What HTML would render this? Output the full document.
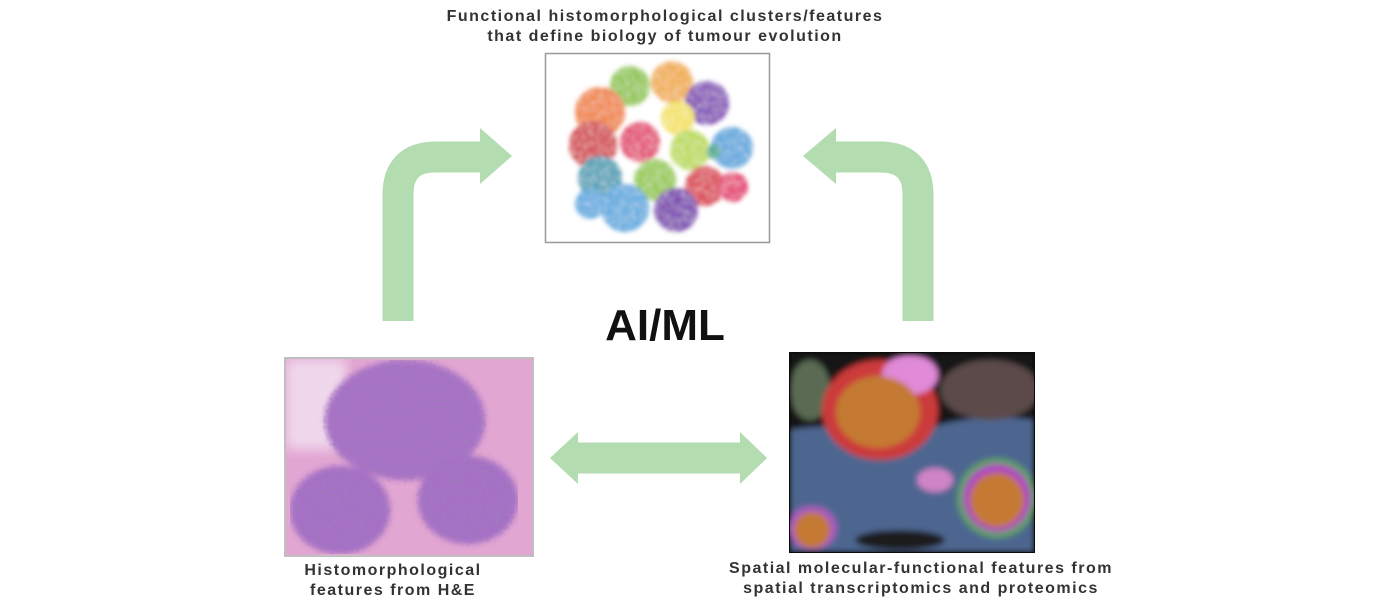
<!DOCTYPE html>
<html><head><meta charset="utf-8"><style>
html,body{margin:0;padding:0;background:#fff;}
svg{display:block;}
text{font-family:"Liberation Sans",Arial,sans-serif;font-weight:bold;letter-spacing:1.5px;}
</style></head><body>
<svg width="1400" height="600" viewBox="0 0 1400 600" xmlns="http://www.w3.org/2000/svg">
<defs>
<filter id="b2"><feGaussianBlur stdDeviation="2"/></filter>
<filter id="b3"><feGaussianBlur stdDeviation="3"/></filter>
<filter id="b6"><feGaussianBlur stdDeviation="6"/></filter>
<filter id="tex" x="0" y="0" width="100%" height="100%">
<feTurbulence type="fractalNoise" baseFrequency="0.4" numOctaves="2" seed="3" result="n"/>
<feColorMatrix in="n" type="matrix" values="0 0 0 0 1  0 0 0 0 1  0 0 0 0 1  0 0 0 -3 1.5" result="m"/>
<feComposite in="m" in2="SourceGraphic" operator="in" result="w"/>
<feMerge><feMergeNode in="SourceGraphic"/><feMergeNode in="w"/></feMerge>
</filter>
<filter id="dots" x="0" y="0" width="100%" height="100%">
<feTurbulence type="fractalNoise" baseFrequency="0.3" numOctaves="2" seed="7" result="n"/>
<feColorMatrix in="n" type="matrix" values="0 0 0 0 0.35  0 0 0 0 0.2  0 0 0 0 0.5  0 0 0 -3 1.6" result="m"/>
<feComposite in="m" in2="SourceGraphic" operator="in" result="w"/>
<feMerge><feMergeNode in="SourceGraphic"/><feMergeNode in="w"/></feMerge>
</filter>
<clipPath id="c1"><rect x="286" y="359" width="246" height="196"/></clipPath>
<clipPath id="c2"><rect x="790" y="353" width="244" height="199"/></clipPath>
</defs>

<text x="665" y="21" font-size="16" text-anchor="middle" fill="#333">Functional histomorphological clusters/features</text>
<text x="665" y="41" font-size="16" text-anchor="middle" fill="#333">that define biology of tumour evolution</text>

<rect x="545.5" y="53.5" width="224" height="189" fill="#fff" stroke="#999" stroke-width="1.5"/>
<g filter="url(#b2)">
<g filter="url(#tex)">
<circle cx="630" cy="86" r="20" fill="#8cc43f"/>
<circle cx="672" cy="82" r="21" fill="#f0a935"/>
<circle cx="707" cy="103" r="22" fill="#7d3fb3"/>
<circle cx="600" cy="112" r="25" fill="#ef7d2a"/>
<circle cx="593" cy="145" r="24" fill="#d1333b"/>
<circle cx="640" cy="142" r="20" fill="#e23868"/>
<circle cx="678" cy="118" r="17" fill="#f3e15a"/>
<circle cx="690" cy="150" r="20" fill="#b9da4c"/>
<circle cx="732" cy="148" r="21" fill="#4fa3dc"/>
<circle cx="714" cy="152" r="7" fill="#2aa58a"/>
<circle cx="600" cy="178" r="22" fill="#3c9bb3"/>
<circle cx="655" cy="180" r="21" fill="#91c83e"/>
<circle cx="705" cy="186" r="20" fill="#d9283c"/>
<circle cx="733" cy="187" r="15" fill="#e4336e"/>
<circle cx="590" cy="204" r="15" fill="#55a7de"/>
<circle cx="625" cy="208" r="24" fill="#55a7de"/>
<circle cx="676" cy="210" r="22" fill="#7535ad"/>
</g></g>

<g fill="none" stroke="#b3dcb0" stroke-width="31">
<path d="M398 321 V195 Q398 157 436 157 H482"/>
<path d="M918 321 V195 Q918 157 880 157 H834"/>
<path d="M575 458 H742"/>
</g>
<g fill="#b3dcb0">
<polygon points="480,128 512,156 480,184"/>
<polygon points="836,128 803,156 836,184"/>
<polygon points="578,432 550,458 578,484"/>
<polygon points="740,432 767,458 740,484"/>
</g>

<text x="665" y="340" font-size="44" text-anchor="middle" fill="#111" style="letter-spacing:0">AI/ML</text>

<rect x="285" y="358" width="248" height="198" fill="#fff" stroke="#aaa" stroke-width="1.5"/>
<g clip-path="url(#c1)">
<rect x="286" y="359" width="246" height="196" fill="#e2a6d2"/>
<rect x="286" y="359" width="60" height="90" fill="#f0d8ec" filter="url(#b6)"/>
<g filter="url(#dots)"><g filter="url(#b3)">
<ellipse cx="405" cy="420" rx="80" ry="60" fill="#a872c6"/>
<ellipse cx="340" cy="510" rx="50" ry="44" fill="#a670c6"/>
<ellipse cx="468" cy="500" rx="50" ry="44" fill="#a670c6"/>
</g></g>
</g>

<rect x="789" y="352" width="246" height="201" fill="#0c0c0c"/>
<g clip-path="url(#c2)">
<g filter="url(#b3)">
<rect x="790" y="353" width="244" height="199" fill="#141414"/>
<path d="M790 430 Q850 420 900 440 Q960 410 1034 420 V552 H790 Z" fill="#4d6690"/>
<ellipse cx="990" cy="390" rx="50" ry="30" fill="#5b4a48"/>
<ellipse cx="810" cy="390" rx="20" ry="30" fill="#5a6a52"/>
<ellipse cx="880" cy="410" rx="58" ry="50" fill="#cc3a3a"/>
<ellipse cx="910" cy="375" rx="28" ry="20" fill="#e08ad8"/>
<ellipse cx="878" cy="412" rx="42" ry="36" fill="#c47a30"/>
<ellipse cx="997" cy="498" rx="40" ry="40" fill="#5fa060"/>
<ellipse cx="997" cy="498" rx="34" ry="34" fill="#b04ac0"/>
<ellipse cx="997" cy="500" rx="27" ry="27" fill="#c47a30"/>
<ellipse cx="812" cy="528" rx="25" ry="22" fill="#a85ac0"/>
<ellipse cx="812" cy="530" rx="18" ry="18" fill="#c47a30"/>
<ellipse cx="935" cy="480" rx="18" ry="12" fill="#d084c8"/>
<ellipse cx="900" cy="540" rx="45" ry="10" fill="#1a1a1a"/>
</g>
</g>

<text x="393" y="575" font-size="16" text-anchor="middle" fill="#333">Histomorphological</text>
<text x="393" y="595" font-size="16" text-anchor="middle" fill="#333">features from H&amp;E</text>
<text x="921" y="573" font-size="16" text-anchor="middle" fill="#333">Spatial molecular-functional features from</text>
<text x="921" y="593" font-size="16" text-anchor="middle" fill="#333">spatial transcriptomics and proteomics</text>
</svg>
</body></html>
